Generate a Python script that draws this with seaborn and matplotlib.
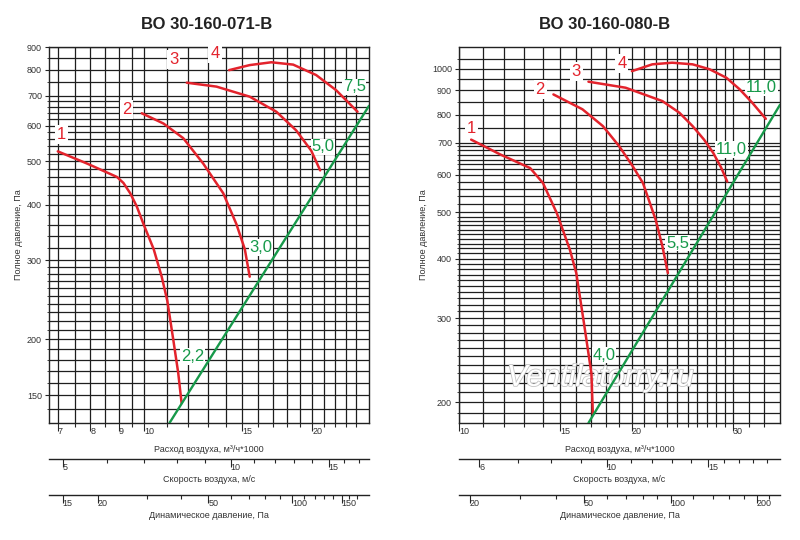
import numpy as np
import pandas as pd
import matplotlib
matplotlib.use("Agg")
import matplotlib.pyplot as plt
import seaborn as sns
from matplotlib import patheffects
from matplotlib.ticker import FixedLocator, NullFormatter

# ---- fan BO 30-160-071-B : air flow (m3/h * 1000) vs total pressure (Pa) ----
q1_071 = [7.0, 7.9, 8.94, 9.18, 9.44, 9.7, 9.97, 10.4, 10.75, 11.0, 11.28, 11.51, 11.67]
p1_071 = [526, 494, 461, 447, 424, 396, 362, 318, 276, 244, 199, 168, 144]
q2_071 = [9.9, 10.83, 11.75, 12.76, 13.86, 14.63, 15.15, 15.46]
p2_071 = [640, 607, 563, 494, 424, 362, 318, 276]
q3_071 = [11.92, 13.48, 15.46, 17.26, 18.73, 19.93, 20.68]
p3_071 = [749, 734, 697, 645, 586, 528, 477]
q4_071 = [14.2, 15.46, 16.9, 18.5, 20.34, 22.08, 24.13]
p4_071 = [799, 820, 832, 822, 779, 721, 645]
net_q_071 = [11.1, 25.3]
net_p_071 = [130, 665]
power_071 = ["2,2", "3,0", "5,0", "7,5"]
power_q_071 = [12.2, 16.2, 20.9, 23.8]
power_p_071 = [183, 321, 538, 733]
num_q_071 = [7.1, 9.3, 11.3, 13.4]
num_p_071 = [575, 651, 845, 872]

# ---- fan BO 30-160-080-B ----
q1_080 = [10.5, 11.8, 13.3, 14.0, 14.8, 15.6, 16.0, 16.5, 17.0, 17.1]
p1_080 = [710, 661, 619, 576, 498, 417, 373, 293, 230, 189]
q2_080 = [14.6, 16.4, 17.8, 19.0, 20.07, 20.9, 22.0, 22.6, 23.1]
p2_080 = [883, 822, 758, 688, 624, 576, 482, 424, 373]
q3_080 = [16.8, 19.5, 22.6, 24.2, 25.5, 26.7, 27.7, 28.6, 29.3]
p3_080 = [939, 912, 855, 808, 758, 710, 666, 620, 580]
q4_080 = [20.0, 21.7, 23.5, 25.5, 27.3, 29.2, 30.8, 32.4, 34.2]
p4_080 = [988, 1021, 1029, 1021, 997, 957, 905, 848, 785]
net_q_080 = [16.8, 36.2]
net_p_080 = [181, 840]
power_080 = ["4,0", "5,5", "11,0", "11,0"]
power_q_080 = [17.9, 24.0, 29.8, 33.6]
power_p_080 = [251, 431, 677, 912]
num_q_080 = [10.5, 13.85, 16.0, 19.2]
num_p_080 = [748, 905, 986, 1026]

# axis ticks
flow_major_071 = [7, 8, 9, 10, 15, 20]
flow_minor_071 = [7.5, 8.5, 9.5, 11, 12, 13, 14, 16, 17, 18, 19, 21, 22, 23, 24]
press_major_071 = [150, 200, 300, 400, 500, 600, 700, 800, 900]
press_minor_071 = ([140] + list(range(160, 300, 10)) + [320, 340, 360, 380, 420, 440, 460, 480,
                   520, 540, 560, 580, 620, 640, 660, 680, 750, 850])
vel_major_071 = [5, 10, 15]
vel_minor_071 = [6, 7, 8, 9, 11, 12, 13, 14, 16, 17]
dyn_major_071 = [15, 20, 50, 100, 150]
dyn_minor_071 = [30, 40, 60, 70, 80, 90, 110, 120, 130, 140, 160, 170]

flow_major_080 = [10, 15, 20, 30]
flow_minor_080 = [11, 12, 13, 14, 16, 17, 18, 19, 21, 22, 23, 24, 25, 26, 27, 28, 29, 32, 34]
press_major_080 = [200, 300, 400, 500, 600, 700, 800, 900, 1000]
press_minor_080 = ([190] + list(range(210, 300, 10)) + list(range(310, 400, 10))
                   + list(range(410, 500, 10)) + [520, 540, 560, 580, 615, 630, 645, 660, 675, 690,
                   750, 850, 950, 1050])
vel_major_080 = [6, 10, 15]
vel_minor_080 = [7, 8, 9, 11, 12, 13, 14, 16, 17, 18, 19]
dyn_major_080 = [20, 50, 100, 200]
dyn_minor_080 = [30, 40, 60, 70, 80, 90, 120, 140, 160, 180, 220]

RED = "#e3232c"
GREEN = "#17994a"
GRID = "#1e1e1e"
TXT = "#333333"

sns.set_theme(style="white")
plt.rcParams["font.family"] = ["Liberation Sans", "DejaVu Sans"]

fig = plt.figure(figsize=(8, 5.4), dpi=100)


def flow_ticks(ax, major, minor):
    ax.set_xticks(major, labels=[str(m) for m in major], ha="left")
    ax.xaxis.set_minor_locator(FixedLocator(minor))
    ax.xaxis.set_minor_formatter(NullFormatter())
    ax.tick_params(axis="x", which="major", direction="out", length=6, width=0.8,
                   pad=-3, labelsize=6.5, labelcolor=TXT, bottom=True)
    ax.tick_params(axis="x", which="minor", direction="out", length=3, width=0.8, bottom=True)


def add_scale(rect, lim, major, minor, label):
    sax = fig.add_axes(rect)
    sax.patch.set_alpha(0)
    sax.set_xscale("log")
    sax.set_xlim(lim)
    sax.set_yticks([])
    for s in ["left", "right", "top"]:
        sax.spines[s].set_visible(False)
    sax.spines["bottom"].set_linewidth(1.0)
    sax.spines["bottom"].set_color("#222222")
    flow_ticks(sax, major, minor)
    sax.set_xlabel(label, fontsize=6.5, color=TXT, labelpad=2)
    return sax


def draw_fan(rect, title, title_x, curves, net_q, net_p, xlim, ylim,
             fmaj, fmin, pmaj, pmin, vel_k, vmaj, vmin, dmaj, dmin,
             power, power_q, power_p, num_q, num_p, watermark=False):
    ax = fig.add_axes(rect)
    ax.set_xscale("log")
    ax.set_yscale("log")
    ax.set_xlim(xlim)
    ax.set_ylim(ylim)

    rows = []
    for i, (qs, ps) in enumerate(curves):
        for q, p in zip(qs, ps):
            rows.append({"curve": i + 1, "Q": q, "P": p})
    df = pd.DataFrame(rows)
    sns.lineplot(data=df, x="Q", y="P", units="curve", estimator=None, sort=False,
                 color=RED, linewidth=1.8, ax=ax, legend=False, zorder=4)
    sns.lineplot(x=net_q, y=net_p, color=GREEN, linewidth=1.7, ax=ax, zorder=4)

    for lab, q, p in zip(power, power_q, power_p):
        ax.text(q, p, lab, color=GREEN, fontsize=12, ha="center", va="center", zorder=3,
                bbox=dict(fc="white", ec="none", pad=0.5))
    for i, (q, p) in enumerate(zip(num_q, num_p)):
        ax.text(q, p, str(i + 1), color=RED, fontsize=12, ha="center", va="center", zorder=3,
                bbox=dict(fc="white", ec="none", pad=1.5))

    flow_ticks(ax, fmaj, fmin)
    ax.set_yticks(pmaj, labels=[str(p) for p in pmaj])
    ax.yaxis.set_minor_locator(FixedLocator(pmin))
    ax.yaxis.set_minor_formatter(NullFormatter())
    ax.tick_params(axis="y", which="major", direction="out", length=3, width=0.8, pad=2,
                   labelsize=6.5, labelcolor=TXT, left=True)
    ax.tick_params(axis="y", which="minor", direction="out", length=1.5, width=0.6, left=True)
    ax.grid(True, which="both", color=GRID, linewidth=0.9)
    for s in ax.spines.values():
        s.set_color("#222222")
        s.set_linewidth(1.0)

    ax.set_xlabel("Расход воздуха, м³/ч*1000", fontsize=6.5, color=TXT, labelpad=6)
    ax.set_ylabel("Полное давление, Па", fontsize=6.5, color=TXT, labelpad=3)
    ax.set_title(title, fontsize=12, fontweight="bold", color="#222222", x=title_x, pad=13)

    if watermark:
        ax.text(0.44, 0.12, "Ventilatorry.ru", transform=ax.transAxes, fontsize=22,
                fontstyle="italic", color="white", ha="center", va="center", zorder=2,
                path_effects=[patheffects.withStroke(linewidth=1.2, foreground="#c4c4c4")])

    left, _, width, _ = rect
    vlim = (vel_k * xlim[0], vel_k * xlim[1])
    add_scale([left, 1 - 459 / 540, width, 1e-4], vlim, vmaj, vmin, "Скорость воздуха, м/с")
    dlim = (0.6 * vlim[0] ** 2, 0.6 * vlim[1] ** 2)
    add_scale([left, 1 - 495 / 540, width, 1e-4], dlim, dmaj, dmin, "Динамическое давление, Па")
    return ax


draw_fan([49 / 800, 1 - 423 / 540, 320 / 800, 376 / 540], "ВО 30-160-071-В", 0.494,
         [(q1_071, p1_071), (q2_071, p2_071), (q3_071, p3_071), (q4_071, p4_071)],
         net_q_071, net_p_071, (6.75, 25.3), (130, 900),
         flow_major_071, flow_minor_071, press_major_071, press_minor_071,
         0.70, vel_major_071, vel_minor_071, dyn_major_071, dyn_minor_071,
         power_071, power_q_071, power_p_071, num_q_071, num_p_071)

draw_fan([459 / 800, 1 - 423 / 540, 321 / 800, 376 / 540], "ВО 30-160-080-В", 0.452,
         [(q1_080, p1_080), (q2_080, p2_080), (q3_080, p3_080), (q4_080, p4_080)],
         net_q_080, net_p_080, (10, 36.2), (181, 1110),
         flow_major_080, flow_minor_080, press_major_080, press_minor_080,
         0.553, vel_major_080, vel_minor_080, dyn_major_080, dyn_minor_080,
         power_080, power_q_080, power_p_080, num_q_080, num_p_080, watermark=True)

fig.savefig("out.png", dpi=100, facecolor="white")
